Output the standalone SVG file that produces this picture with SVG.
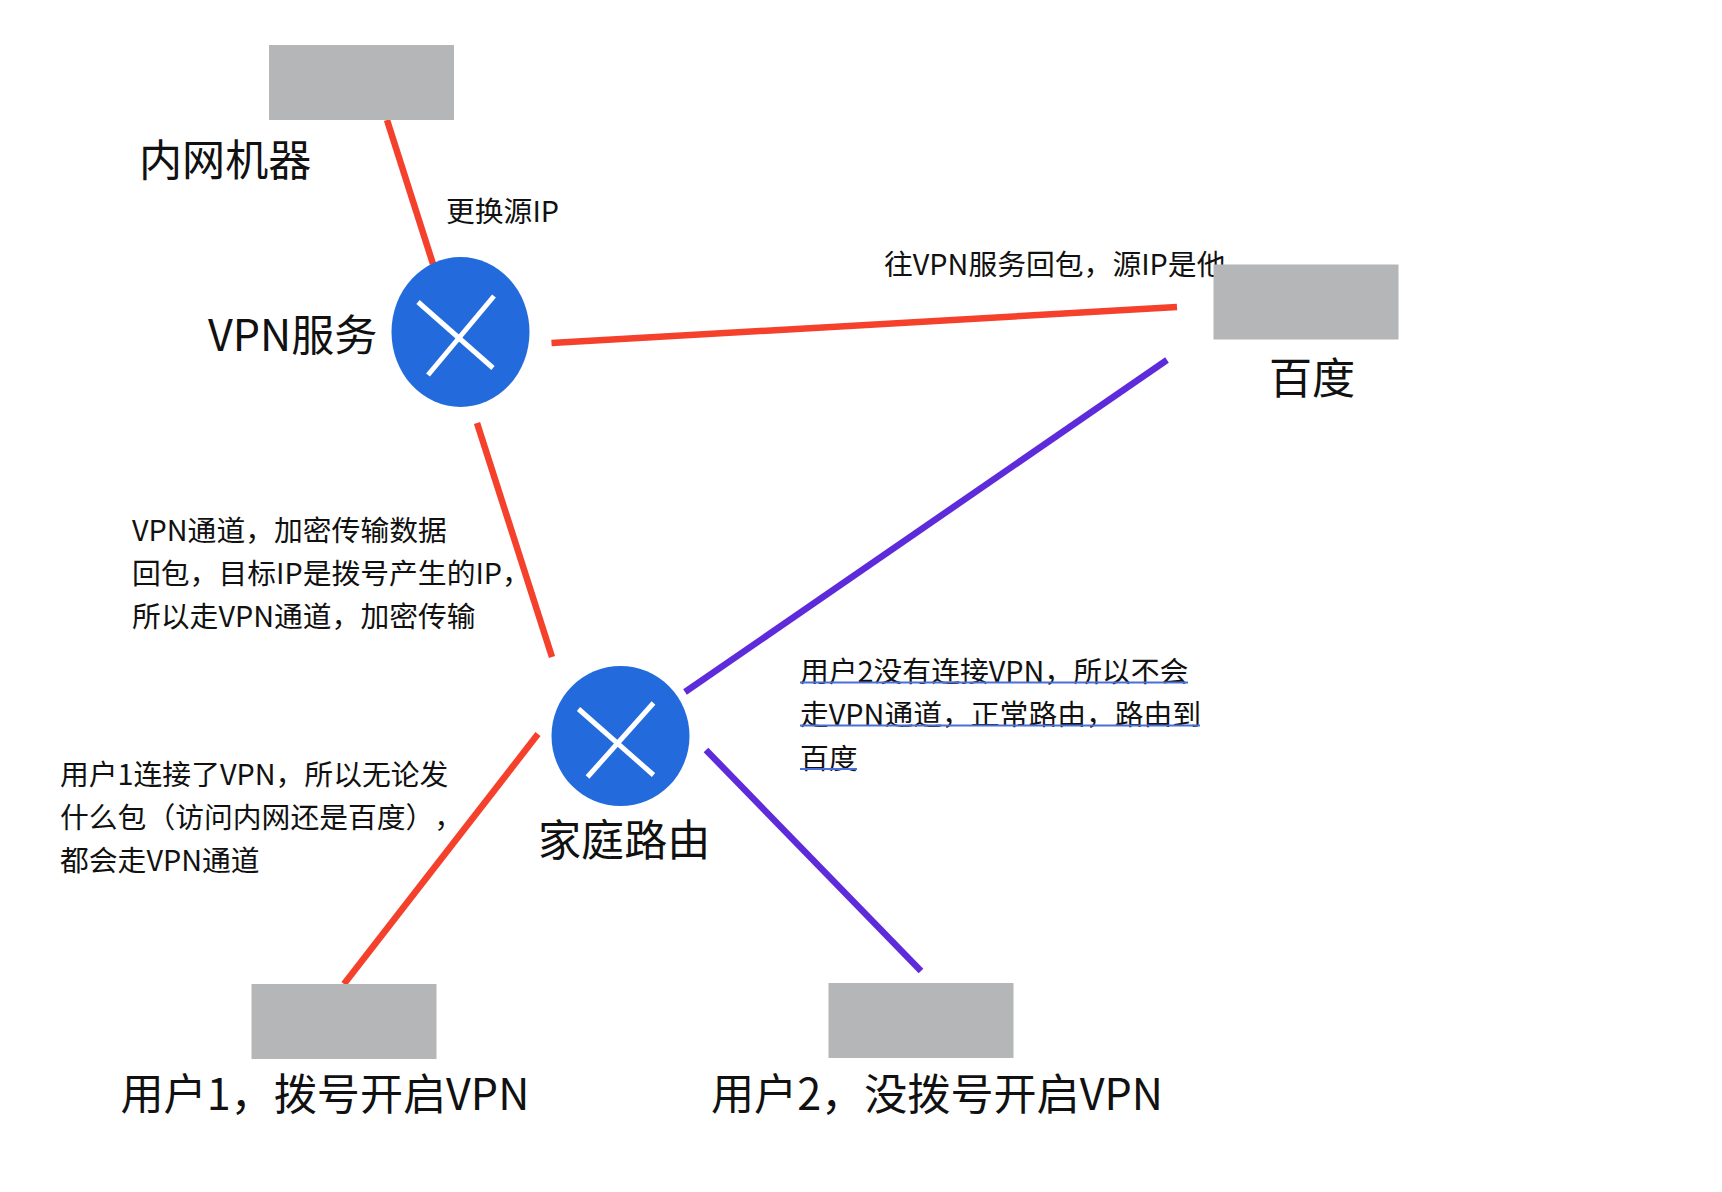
<svg xmlns="http://www.w3.org/2000/svg" width="1722" height="1192" viewBox="0 0 1722 1192">
<style>
text{font-family:"Noto Sans CJK SC","Noto Sans",sans-serif;fill:#111;text-spacing-trim:space-all}
.big{font-size:43.1px}
.small{font-size:28.8px}
.box{fill:#b5b6b7}
.hub{fill:#236bdc}
.x{stroke:#fff;stroke-width:5;fill:none}
.red{stroke:#f5402c;stroke-width:6.5;fill:none}
.pur{stroke:#5e2bdb;stroke-width:6.5;fill:none}
.ul{stroke:#4a6fd8;stroke-width:2;fill:none}
</style>
<rect width="1722" height="1192" fill="#fff"/>
<g id="connectors">
<line class="red" x1="387" y1="120" x2="433" y2="264"/>
<line class="red" x1="551.500" y1="343" x2="1177" y2="307"/>
<line class="red" x1="477" y1="423" x2="552" y2="657"/>
<line class="red" x1="538" y1="734" x2="344" y2="984"/>
<line class="pur" x1="1167" y1="360" x2="685" y2="692"/>
<line class="pur" x1="706" y1="750" x2="921" y2="971"/>
</g>
<g id="node-intranet">
<rect class="box" x="269" y="45" width="185" height="75"/>
<text class="big" x="139" y="176">内网机器</text>
</g>
<g id="node-vpn">
<ellipse class="hub" cx="460.500" cy="332" rx="69" ry="75"/>
<line class="x" x1="418" y1="302" x2="493" y2="368"/>
<line class="x" x1="494" y1="296" x2="428" y2="375"/>
<text class="big" x="208" y="351">VPN服务</text>
</g>
<g id="node-baidu-label">
<text class="small" x="884" y="275">往VPN服务回包，源IP是他</text>
</g>
<g id="node-baidu">
<rect class="box" x="1213.500" y="264.500" width="185" height="75"/>
<text class="big" x="1269" y="394">百度</text>
</g>
<g id="node-home">
<ellipse class="hub" cx="620.500" cy="736" rx="69" ry="70"/>
<line class="x" x1="578.500" y1="709" x2="653.500" y2="775"/>
<line class="x" x1="653.500" y1="703" x2="587.500" y2="777"/>
<text class="big" x="538" y="856">家庭路由</text>
</g>
<g id="node-user1">
<rect class="box" x="251.500" y="984" width="185" height="75"/>
<text class="big" x="120.500" y="1110">用户1，拨号开启VPN</text>
</g>
<g id="node-user2">
<rect class="box" x="828.500" y="983" width="185" height="75"/>
<text class="big" x="711" y="1110">用户2，没拨号开启VPN</text>
</g>
<g id="labels">
<text class="small" x="446" y="222">更换源IP</text>
<text class="small" x="132" y="541">VPN通道，加密传输数据</text>
<text class="small" x="132" y="584">回包，目标IP是拨号产生的IP，</text>
<text class="small" x="132" y="627">所以走VPN通道，加密传输</text>
<text class="small" x="60" y="785">用户1连接了VPN，所以无论发</text>
<text class="small" x="60" y="828">什么包（访问内网还是百度），</text>
<text class="small" x="60" y="871">都会走VPN通道</text>
<text class="small" x="800" y="682">用户2没有连接VPN，所以不会</text>
<text class="small" x="800" y="725">走VPN通道，正常路由，路由到</text>
<text class="small" x="800" y="769">百度</text>
<line class="ul" x1="800" y1="682.500" x2="1188" y2="682.500"/>
<line class="ul" x1="800" y1="725.500" x2="1200" y2="725.500"/>
<line class="ul" x1="800" y1="769" x2="857" y2="769"/>
</g>
</svg>
